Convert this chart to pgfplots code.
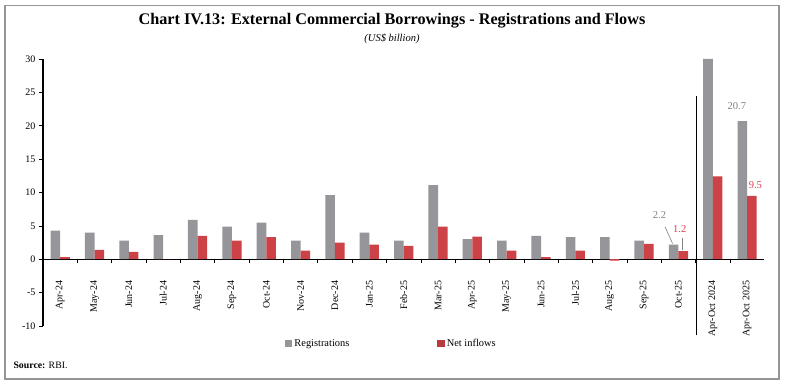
\documentclass[border=0pt]{standalone}
\usepackage{pgfplots}
\pgfplotsset{compat=1.18}
\usepackage{pgfplotstable}
\usepackage{fontspec}
\setmainfont{Liberation Serif}
\definecolor{regs}{RGB}{150,150,154}
\definecolor{netin}{RGB}{204,66,70}
\definecolor{lblgrey}{RGB}{130,130,130}
\definecolor{lblred}{RGB}{222,60,80}
\definecolor{framec}{RGB}{150,150,150}
\pgfplotstableread{
x reg net
0 4.3 0.3
1 4.0 1.4
2 2.8 1.1
3 3.6 0.0
4 5.9 3.5
5 4.9 2.8
6 5.5 3.3
7 2.8 1.3
8 9.6 2.5
9 4.0 2.2
10 2.8 2.0
11 11.1 4.9
12 3.0 3.4
13 2.8 1.3
14 3.5 0.3
15 3.3 1.3
16 3.3 -0.2
17 2.8 2.3
18 2.2 1.2
19 30.0 12.4
20 20.7 9.5
}\ecbdata
\begin{document}
\begin{tikzpicture}[x=1pt,y=1pt]
\path[fill=white] (0,0) rectangle (785,387);
\draw[framec, line width=1.2pt] (5,8) rectangle (779,381.3);
\node[font=\fontsize{16.2}{18}\selectfont\bfseries] at (392,366) {Chart IV.13: External Commercial Borrowings - Registrations and Flows};
\node[font=\fontsize{10.5}{12}\selectfont\itshape] at (392,348) {(US\$ billion)};
\node[anchor=west, font=\fontsize{9.8}{11}\selectfont] at (10,22) {\textbf{Source:} RBI.};
\begin{axis}[
  at={(43pt,61pt)}, anchor=south west,
  scale only axis, width=721.3pt, height=267pt,
  xmin=-0.5, xmax=20.5, ymin=-10, ymax=30,
  axis y line*=left, axis x line*=middle,
  axis line style={black, line width=1.1pt},
  clip=false,
  ybar=0pt, bar width=9.6pt,
  ytick={-10,-5,0,5,10,15,20,25,30},
  yticklabel style={font=\fontsize{10}{11}\selectfont},
  /pgf/number format/assume math mode=true,
  xtick={0,...,20},
  xticklabels={Apr-24,May-24,Jun-24,Jul-24,Aug-24,Sep-24,Oct-24,Nov-24,Dec-24,Jan-25,Feb-25,Mar-25,Apr-25,May-25,Jun-25,Jul-25,Aug-25,Sep-25,Oct-25,Apr-Oct 2024,Apr-Oct 2025},
  xticklabel style={rotate=90, anchor=east, font=\fontsize{10}{11}\selectfont},
  xticklabel shift=14pt,
  minor xtick={0.5,1.5,...,19.5},
  major x tick style={draw=none},
  tick align=outside,
  major tick length=4pt, minor tick length=4pt,
  tick style={black, line width=0.6pt},
  legend style={at={(axis description cs:0.331,-0.067)}, anchor=west, draw=none, fill=none,
    legend columns=2, font=\fontsize{10.4}{11}\selectfont,
    /tikz/every even column/.append style={column sep=86pt}},
]
\addplot[fill=regs, draw=none, legend image code/.code={\fill[regs] (0pt,-3.5pt) rectangle (7.5pt,3.5pt);}] table[x=x,y=reg]{\ecbdata};
\addlegendentry{Registrations}
\addplot[fill=netin, draw=none, legend image code/.code={\fill[netin!90!black] (0pt,-3.5pt) rectangle (7.5pt,3.5pt);}] table[x=x,y=net]{\ecbdata};
\addlegendentry{Net inflows}
\draw[black, line width=1pt] (axis cs:18.52,24.4) -- (axis cs:18.52,-11.4);
\node[lblgrey, font=\fontsize{10.5}{11}\selectfont] at (axis cs:17.45,6.6) {2.2};
\draw[lblgrey, line width=0.6pt] (axis cs:17.61,4.85) -- (axis cs:17.83,2.35);
\node[lblred, font=\fontsize{10.5}{11}\selectfont] at (axis cs:18.04,4.45) {1.2};
\draw[lblgrey, line width=0.6pt] (axis cs:18.12,3.15) -- (axis cs:18.12,1.35);
\node[lblgrey, font=\fontsize{10.5}{11}\selectfont] at (axis cs:19.7,22.95) {20.7};
\node[lblred, font=\fontsize{10.5}{11}\selectfont] at (axis cs:20.24,11.1) {9.5};
\end{axis}
\end{tikzpicture}
\end{document}
